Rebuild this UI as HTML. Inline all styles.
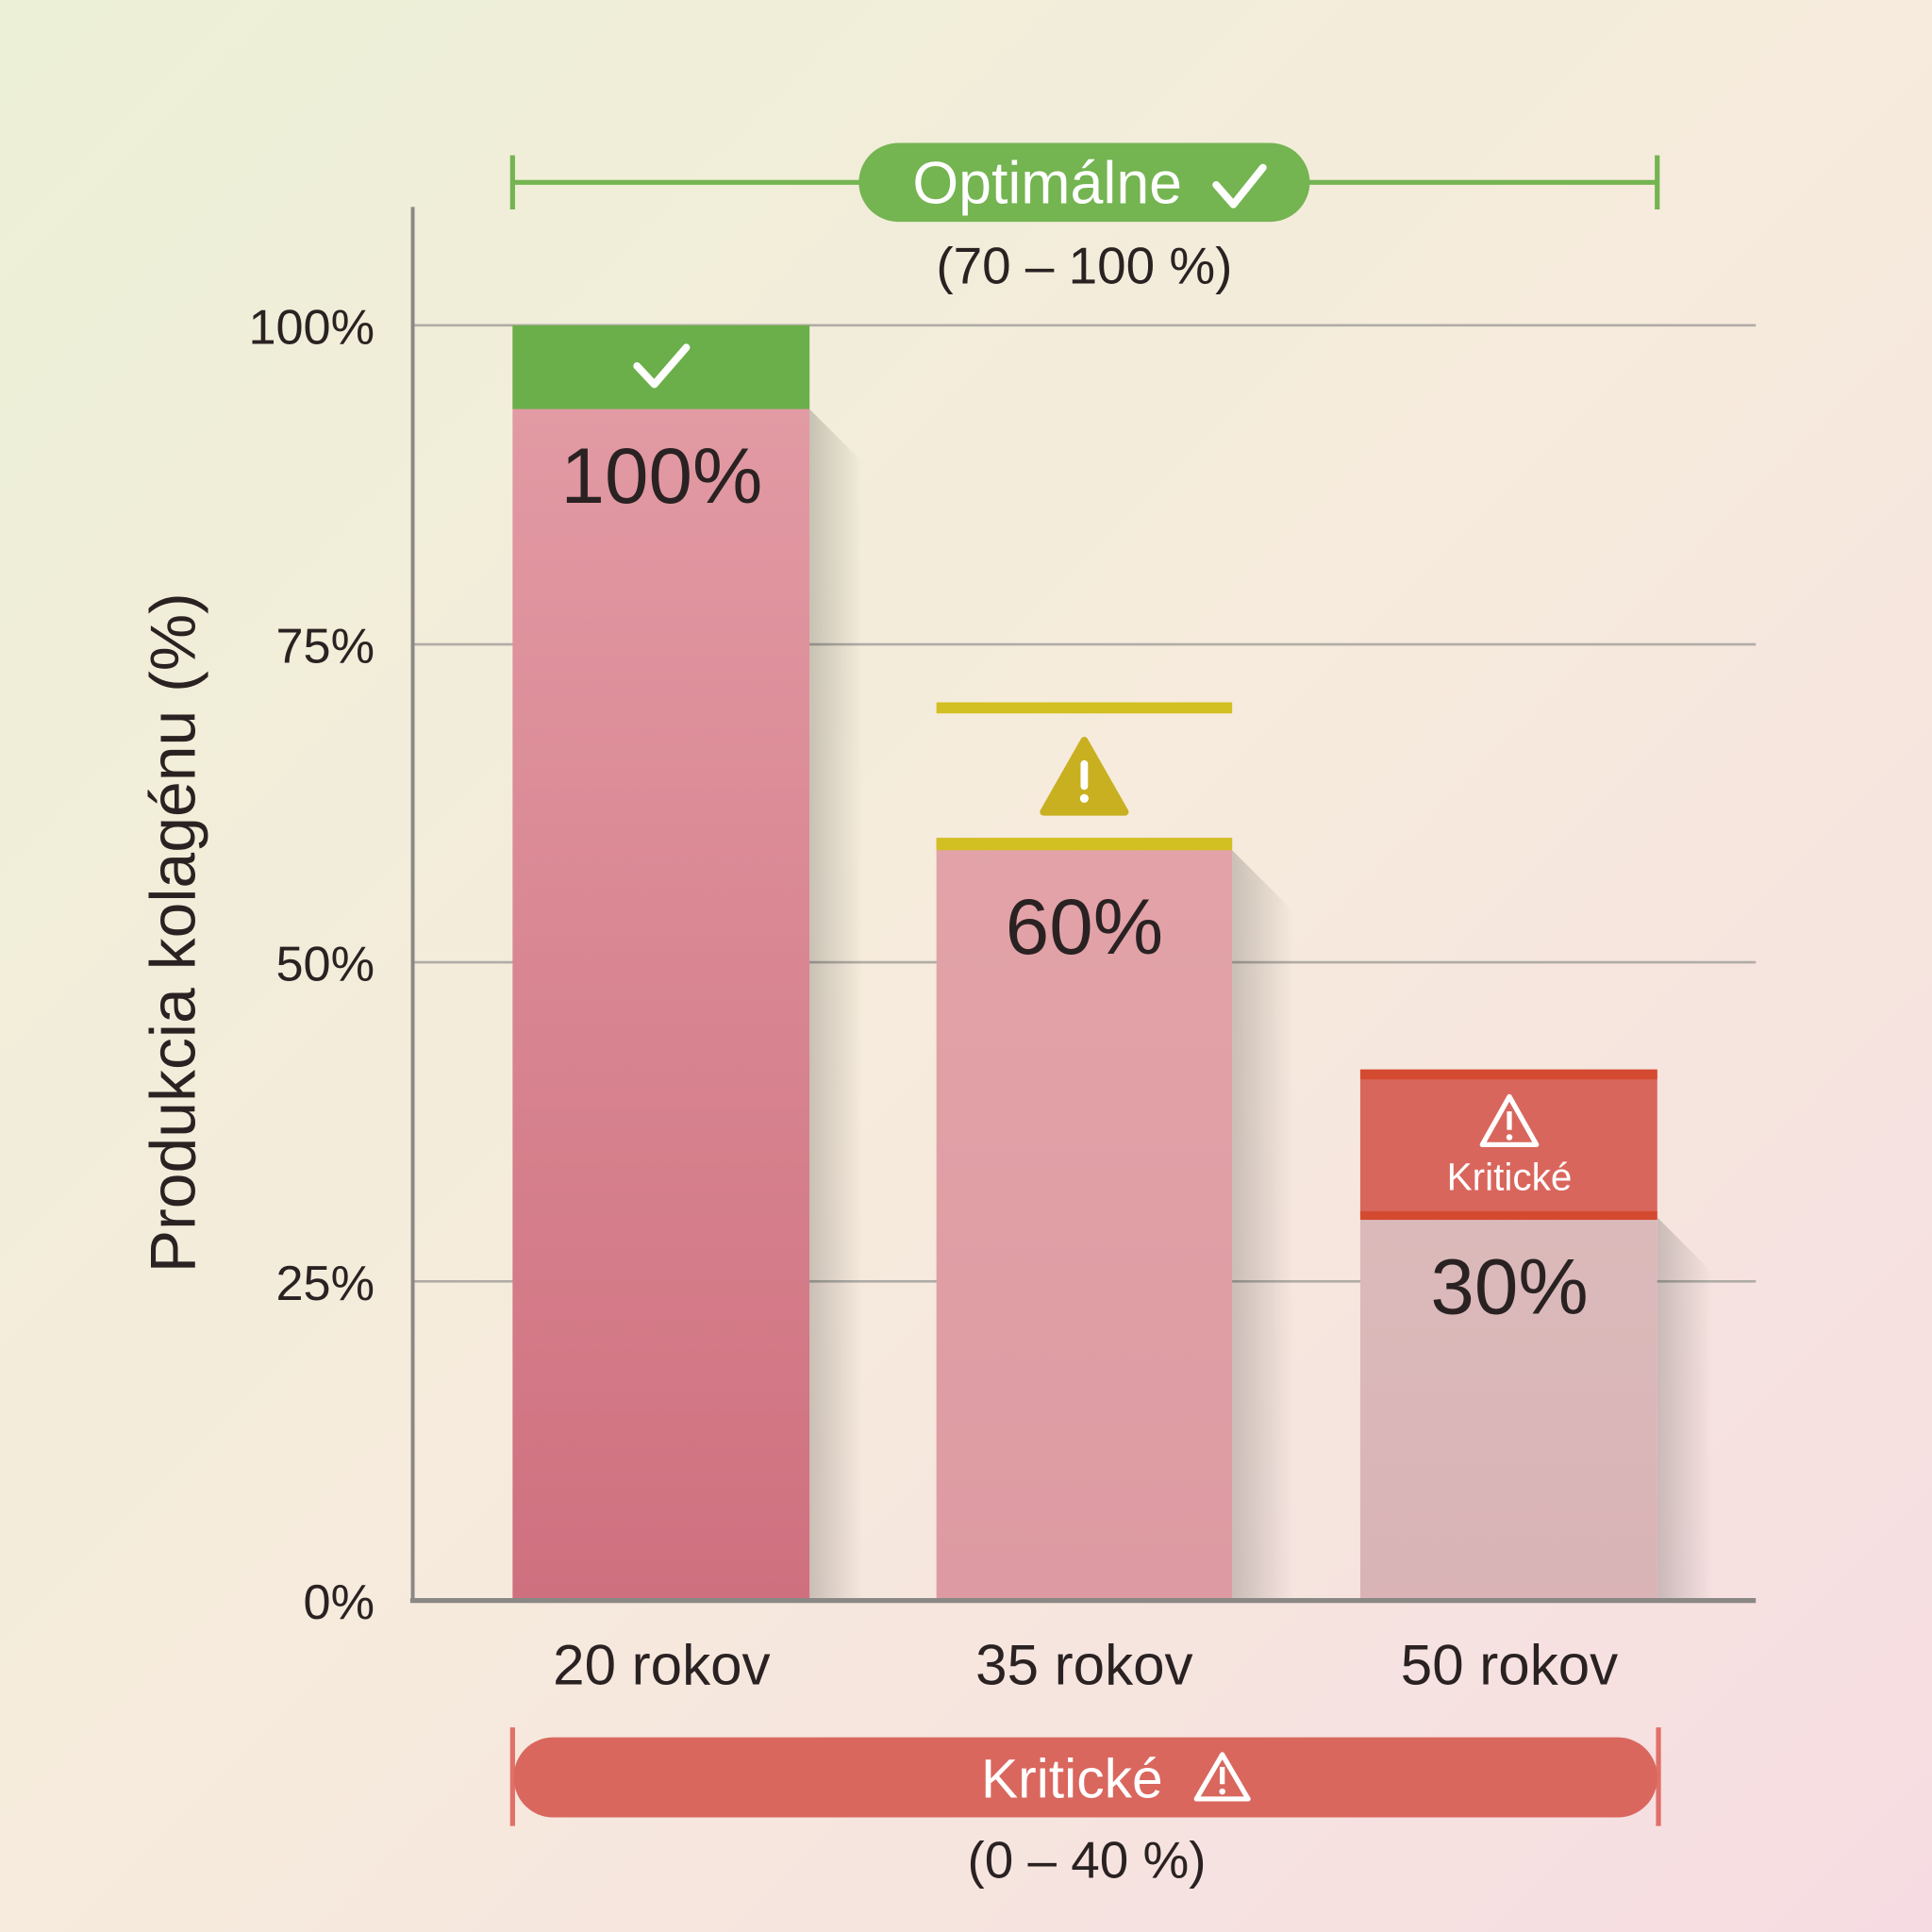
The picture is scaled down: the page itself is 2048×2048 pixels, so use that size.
<!DOCTYPE html>
<html><head><meta charset="utf-8"><style>
html,body{margin:0;padding:0;width:2048px;height:2048px;overflow:hidden}
svg{display:block}
text{font-family:"Liberation Sans","DejaVu Sans",sans-serif}
</style></head><body>
<svg width="2048" height="2048" viewBox="0 0 1568 1568" xmlns="http://www.w3.org/2000/svg">
<defs>
<linearGradient id="bg" x1="0" y1="0" x2="1" y2="1">
<stop offset="0" stop-color="#ecf0d6"/><stop offset="0.5" stop-color="#f6ebdc"/><stop offset="1" stop-color="#f6dce2"/>
</linearGradient>
<linearGradient id="b1" x1="0" y1="0" x2="0" y2="1"><stop offset="0" stop-color="#e39da6"/><stop offset="1" stop-color="#cf707f"/></linearGradient>
<linearGradient id="b2" x1="0" y1="0" x2="0" y2="1"><stop offset="0" stop-color="#e2a3a8"/><stop offset="1" stop-color="#dd9aa2"/></linearGradient>
<linearGradient id="b3" x1="0" y1="0" x2="0" y2="1"><stop offset="0" stop-color="#dcbcbb"/><stop offset="1" stop-color="#d9b3b6"/></linearGradient>
<linearGradient id="sh" x1="0" y1="0" x2="1" y2="0"><stop offset="0" stop-color="#000" stop-opacity="0.18"/><stop offset="1" stop-color="#000" stop-opacity="0"/></linearGradient>
</defs>
<rect width="1568" height="1568" fill="url(#bg)"/>
<g stroke="#b0aca6" stroke-width="2">
<line x1="335" y1="264" x2="1425" y2="264"/>
<line x1="335" y1="523" x2="1425" y2="523"/>
<line x1="335" y1="781" x2="1425" y2="781"/>
<line x1="335" y1="1040" x2="1425" y2="1040"/>
</g>
<polygon points="657,332 700,375 700,1298 657,1298" fill="url(#sh)"/>
<polygon points="1000,690 1050,740 1050,1298 1000,1298" fill="url(#sh)"/>
<polygon points="1345,988 1390,1033 1390,1298 1345,1298" fill="url(#sh)"/>
<rect x="416" y="264" width="241" height="1034" fill="url(#b1)"/>
<rect x="416" y="264" width="241" height="68" fill="#6aaf4a"/>
<path d="M517 297 l14 15 l26 -30" stroke="#fff" stroke-width="6" fill="none" stroke-linecap="round" stroke-linejoin="round"/>
<text x="537" y="408" font-size="64" text-anchor="middle" fill="#2a2222">100%</text>

<rect x="760" y="680" width="240" height="618" fill="url(#b2)"/>
<rect x="760" y="680" width="240" height="10" fill="#d2bf22"/>
<rect x="760" y="570" width="240" height="9" fill="#d2bf22"/>
<path d="M880 601 L913 659 L847 659 Z" fill="#c8b020" stroke="#c8b020" stroke-width="6" stroke-linejoin="round"/>
<rect x="877" y="617" width="6" height="24" rx="3" fill="#fff"/><circle cx="880" cy="648" r="3.5" fill="#fff"/>
<text x="880" y="774" font-size="64" text-anchor="middle" fill="#2a2222">60%</text>

<rect x="1104" y="868" width="241" height="430" fill="url(#b3)"/>
<rect x="1104" y="868" width="241" height="120" fill="#d9665c"/>
<rect x="1104" y="868" width="241" height="8" fill="#d44a30"/>
<rect x="1104" y="983" width="241" height="7" fill="#d44a30"/>
<path d="M1225 890 L1247 929 L1203 929 Z" fill="none" stroke="#fff" stroke-width="4" stroke-linejoin="round"/>
<rect x="1223" y="902" width="4" height="15" fill="#fff"/><circle cx="1225" cy="923" r="2.5" fill="#fff"/>
<text x="1225" y="966" font-size="31" text-anchor="middle" fill="#fff">Kritické</text>
<text x="1225" y="1066" font-size="64" text-anchor="middle" fill="#2a2222">30%</text>

<line x1="335" y1="168" x2="335" y2="1300" stroke="#8a8884" stroke-width="3"/>
<line x1="333" y1="1299" x2="1425" y2="1299" stroke="#8a8884" stroke-width="4"/>
<g font-size="40" fill="#2a2222" text-anchor="end">
<text x="304" y="279">100%</text><text x="304" y="538">75%</text><text x="304" y="796">50%</text><text x="304" y="1055">25%</text><text x="304" y="1314">0%</text>
</g>
<text transform="translate(158,757) rotate(-90)" font-size="52" text-anchor="middle" fill="#2a2222">Produkcia kolagénu (%)</text>
<g font-size="46" fill="#2a2222" text-anchor="middle">
<text x="537" y="1367">20 rokov</text><text x="880" y="1367">35 rokov</text><text x="1225" y="1367">50 rokov</text>
</g>
<g stroke="#74b451" stroke-width="4">
<line x1="416" y1="148" x2="1345" y2="148"/><line x1="416" y1="126" x2="416" y2="170"/><line x1="1345" y1="126" x2="1345" y2="170"/>
</g>
<rect x="697" y="116" width="366" height="64" rx="32" fill="#74b451"/>
<text x="850" y="165" font-size="48" text-anchor="middle" fill="#fff">Optimálne</text>
<path d="M987 150 l14 16 l24 -30" stroke="#fff" stroke-width="6" fill="none" stroke-linecap="round" stroke-linejoin="round"/>
<text x="880" y="230" font-size="42" text-anchor="middle" fill="#2a2222">(70 – 100 %)</text>
<g stroke="#e07068" stroke-width="4">
<line x1="416" y1="1402" x2="416" y2="1482"/><line x1="1346" y1="1402" x2="1346" y2="1482"/>
</g>
<rect x="417" y="1410" width="928" height="65" rx="32" fill="#d9675e"/>
<text x="870" y="1459" font-size="45" text-anchor="middle" fill="#fff">Kritické</text>
<path d="M992 1424 L1013 1460 L971 1460 Z" fill="none" stroke="#fff" stroke-width="4" stroke-linejoin="round"/>
<rect x="990" y="1434" width="4" height="14" fill="#fff"/><circle cx="992" cy="1454" r="2.5" fill="#fff"/>
<text x="882" y="1524" font-size="42" text-anchor="middle" fill="#2a2222">(0 – 40 %)</text>
</svg>
</body></html>
